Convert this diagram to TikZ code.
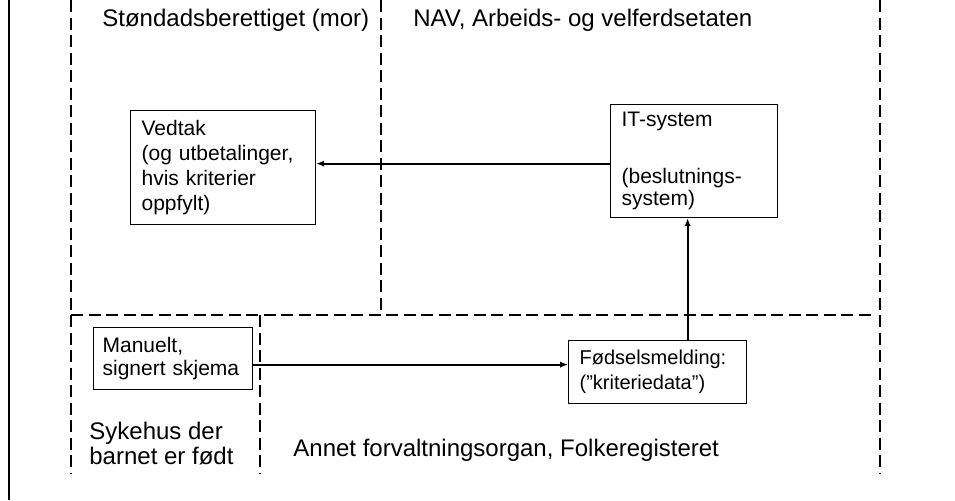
\documentclass[tikz,border=0pt]{standalone}
\usepackage{fontspec}
\setmainfont{Liberation Sans}
\usetikzlibrary{positioning,arrows.meta}

\begin{document}
\begin{tikzpicture}[x=0.5pt,y=-0.5pt,>={Latex[length=4pt,width=3.2pt]},
  boks/.style={draw,line width=0.6pt,rectangle,anchor=north west,align=left,
    inner xsep=5.5pt,inner ysep=0pt,font=\fontsize{10.5}{12.6}\selectfont},
  felt/.style={line width=1pt,dash pattern=on 6pt off 2.75pt},
  etikett/.style={anchor=base west,inner sep=0pt,align=left,font=\fontsize{12}{12.5}\selectfont}]
\useasboundingbox (0,0) rectangle (955,500);

% lanes
\draw[line width=1pt] (9,0) -- (9,500);
\draw[felt] (71,0) -- (71,473);
\draw[felt] (381,0) -- (381,315);
\draw[felt] (880,0) -- (880,473);
\draw[felt] (71,315) -- (875,315);
\draw[felt] (260,315) -- (260,473);

\node[etikett] (l_mor) at (102,26) {Støndadsberettiget (mor)};
\node[etikett] (l_nav) at (413,26) {NAV, Arbeids- og velferdsetaten};
\node[etikett] (l_syk) at (89,464) {Sykehus der\\barnet er født};
\node[etikett] (l_reg) at (293,456) {Annet forvaltningsorgan, Folkeregisteret};

% boxes
\node[boks,text width=81.5pt,minimum height=57pt] (vedtak) at (130,110)
  {Vedtak\\(og utbetalinger,\\hvis kriterier\\oppfylt)};
\node[boks,text width=72.5pt,minimum height=56.5pt,font=\fontsize{10.5}{11}\selectfont] (itsys) at (610,104)
  {IT-system\\[17.5pt](beslutnings-\\system)};
\node[boks,text width=70.5pt,minimum height=31pt,inner xsep=4.5pt,font=\fontsize{10.5}{11.5}\selectfont] (manuelt) at (93,327)
  {Manuelt,\\signert skjema};
\node[boks,text width=78pt,minimum height=31.5pt,font=\fontsize{10}{12.5}\selectfont] (fodsel) at (568,340)
  {Fødselsmelding:\\(”kriteriedata”)};

\draw[->,line width=0.9pt] ([yshift=-1.25pt]itsys.west) -- ([yshift=-1.25pt]itsys.west -| vedtak.east);
\draw[->,line width=0.9pt] ([yshift=-3pt]manuelt.east) -- ([yshift=-3pt]manuelt.east -| fodsel.west);
\draw[->,line width=0.9pt] ([xshift=15pt]fodsel.north) -- ([xshift=15pt]fodsel.north |- itsys.south);
\end{tikzpicture}
\end{document}
